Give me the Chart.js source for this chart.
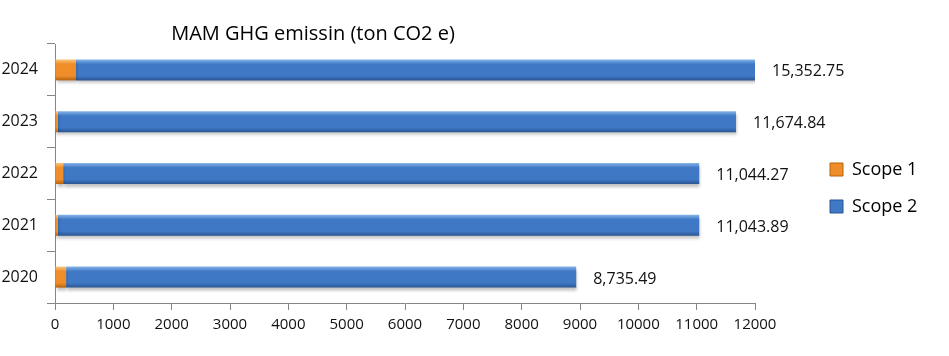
<!DOCTYPE html>
<html><head><meta charset="utf-8">
<script src="https://cdn.jsdelivr.net/npm/chart.js@4.4.1/dist/chart.umd.min.js"></script>
<style>html,body{margin:0;padding:0;background:#fff}</style>
</head><body>
<canvas id="c" width="949" height="356"></canvas>
<script>
const categories = ['2020', '2021', '2022', '2023', '2024'];
const scope1 = [190, 50, 140, 50, 360];
const scope2 = [8745, 10994, 10904, 11625, 14993];
const valueLabels = [8735.49, 11043.89, 11044.27, 11674.84, 15352.75];
const seriesNames = ['Scope 1', 'Scope 2'];
const titleText = 'MAM GHG emissin (ton CO2 e)';
const axisMin = 0, axisMax = 12000, axisStep = 1000;

const palettes = [
  {light: '#FBC57E', mid: '#EF8E28', dark: '#B5620F'},
  {light: '#86B4E8', mid: '#3F79C6', dark: '#2A5592'}
];
const FONT = '"Open Sans", "DejaVu Sans", sans-serif';
Chart.defaults.font.family = FONT;
Chart.defaults.color = '#111';

const fmt = v => v.toLocaleString('en-US', {minimumFractionDigits: 2, maximumFractionDigits: 2});

const stylePlugin = {
  id: 'styler',
  beforeInit(chart) {
    const lg = chart.legend;
    const origFit = lg.fit;
    lg.fit = function () { origFit.call(this); this.width = 194; };
  },
  afterLayout(chart) {
    const lg = chart.legend;
    lg.left = 811; lg.right = 949;
    lg.top = 10; lg.bottom = 366;
  },
  beforeDatasetsDraw(chart) {
    const ctx = chart.ctx;
    chart.data.datasets.forEach((ds, i) => {
      const meta = chart.getDatasetMeta(i);
      const p = palettes[i];
      meta.data.forEach(el => {
        const y = el.y, h = el.height;
        const g = ctx.createLinearGradient(0, y - h / 2, 0, y + h / 2);
        g.addColorStop(0, p.light);
        g.addColorStop(0.22, p.mid);
        g.addColorStop(0.78, p.mid);
        g.addColorStop(1, p.dark);
        el.options = Object.assign({}, el.options, {backgroundColor: g});
      });
    });
  },
  beforeDatasetDraw(chart) {
    const ctx = chart.ctx;
    ctx.shadowColor = 'rgba(0,0,0,0.25)';
    ctx.shadowBlur = 3;
    ctx.shadowOffsetX = 1;
    ctx.shadowOffsetY = 3;
  },
  afterDatasetDraw(chart) {
    const ctx = chart.ctx;
    ctx.shadowColor = 'rgba(0,0,0,0)';
    ctx.shadowBlur = 0;
    ctx.shadowOffsetX = 0;
    ctx.shadowOffsetY = 0;
  },
  afterDatasetsDraw(chart) {
    const ctx = chart.ctx;
    const meta = chart.getDatasetMeta(1);
    ctx.save();
    ctx.font = '16px ' + FONT;
    ctx.fillStyle = '#111';
    ctx.textAlign = 'left';
    ctx.textBaseline = 'middle';
    meta.data.forEach((el, i) => {
      const x = Math.min(el.x, chart.chartArea.right);
      ctx.fillText(fmt(valueLabels[i]), x + 17, el.y + 2);
    });
    ctx.restore();
  },
  afterDraw(chart) {
    const ctx = chart.ctx;
    ctx.save();
    ctx.font = '20px ' + FONT;
    ctx.fillStyle = '#000';
    ctx.textAlign = 'center';
    ctx.textBaseline = 'alphabetic';
    ctx.fillText(titleText, 313, 40);
    ctx.restore();
  }
};

new Chart(document.getElementById('c'), {
  type: 'bar',
  data: {
    labels: categories,
    datasets: [
      {label: seriesNames[0], data: scope1, backgroundColor: palettes[0].mid, borderWidth: 0, clip: 0},
      {label: seriesNames[1], data: scope2, backgroundColor: palettes[1].mid, borderWidth: 0, clip: 0}
    ]
  },
  options: {
    indexAxis: 'y',
    responsive: false,
    animation: false,
    events: [],
    categoryPercentage: 0.5,
    barPercentage: 0.81,
    layout: {padding: {top: 44, left: 0, right: 0, bottom: 0}},
    plugins: {
      title: {display: false},
      tooltip: {enabled: false},
      legend: {
        position: 'right',
        align: 'center',
        labels: {
          boxWidth: 13, boxHeight: 13, padding: 19,
          font: {size: 18},
          color: '#111',
          generateLabels(chart) {
            return chart.data.datasets.map((ds, i) => ({
              text: ds.label,
              fillStyle: palettes[i].mid,
              strokeStyle: palettes[i].dark,
              lineWidth: 1,
              datasetIndex: i
            }));
          }
        }
      }
    },
    scales: {
      x: {
        stacked: true,
        min: axisMin, max: axisMax,
        ticks: {stepSize: axisStep, font: {size: 15}, color: '#111', padding: 6, maxRotation: 0, autoSkip: false,
                callback: v => String(v)},
        grid: {drawOnChartArea: false, drawTicks: true, tickLength: 7, color: '#868686'},
        border: {color: '#868686', width: 1},
        afterFit(s) { s.height = 53; }
      },
      y: {
        stacked: true,
        reverse: true,
        ticks: {font: {size: 16}, color: '#111', padding: 9},
        grid: {drawOnChartArea: false, drawTicks: true, tickLength: 8, color: '#868686', offset: true},
        border: {color: '#868686', width: 1},
        afterFit(s) { s.width = 55; }
      }
    }
  },
  plugins: [stylePlugin]
});
</script>
</body></html>
